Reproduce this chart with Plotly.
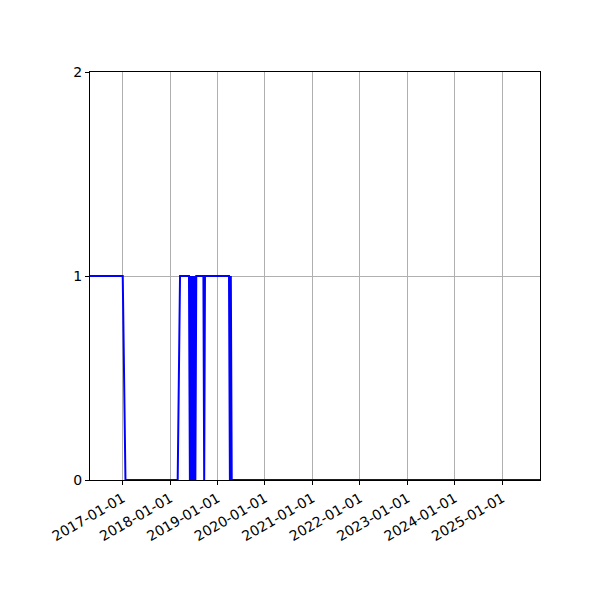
import plotly.graph_objects as go

# status over time
dates = [
    "2016-04-01", "2017-01-01", "2017-01-22",
    "2018-02-28", "2018-03-18", "2018-05-26",
    "2018-06-02", "2018-06-09", "2018-06-16", "2018-06-23",
    "2018-06-30", "2018-07-07", "2018-07-14", "2018-07-21",
    "2018-09-14", "2018-09-20", "2018-09-26",
    "2019-03-30", "2019-04-06", "2019-04-13", "2019-04-20",
    "2025-12-31",
]
values = [
    1, 1, 0,
    0, 1, 1,
    0, 1, 0, 1,
    0, 1, 0, 1,
    1, 0, 1,
    1, 0, 1, 0,
    0,
]

x_range = ["2016-04-24", "2025-10-18"]
y_ticks = [0, 1, 2]

fig = go.Figure()
fig.add_trace(go.Scatter(x=dates, y=values, mode="lines",
                         line=dict(color="#0000ff", width=2)))

axis_style = dict(showline=True, linecolor="black", linewidth=1, mirror=True,
                  ticks="outside", ticklen=4, tickcolor="black",
                  showgrid=True, gridcolor="#b0b0b0", gridwidth=1,
                  zeroline=False)

fig.update_xaxes(range=x_range, type="date", tick0="2017-01-01", dtick="M12",
                 tickformat="%Y-%m-%d", tickangle=-30, **axis_style)
fig.update_yaxes(range=[0, 2], tickvals=y_ticks, **axis_style)

# the page body adds 8px, so margins are shifted to compensate
fig.update_layout(
    width=600, height=600,
    margin=dict(l=82, r=68, t=64, b=128),
    plot_bgcolor="white", paper_bgcolor="white",
    showlegend=False,
    font=dict(family="DejaVu Sans", size=14, color="black"),
)

fig.write_html("out.html")
